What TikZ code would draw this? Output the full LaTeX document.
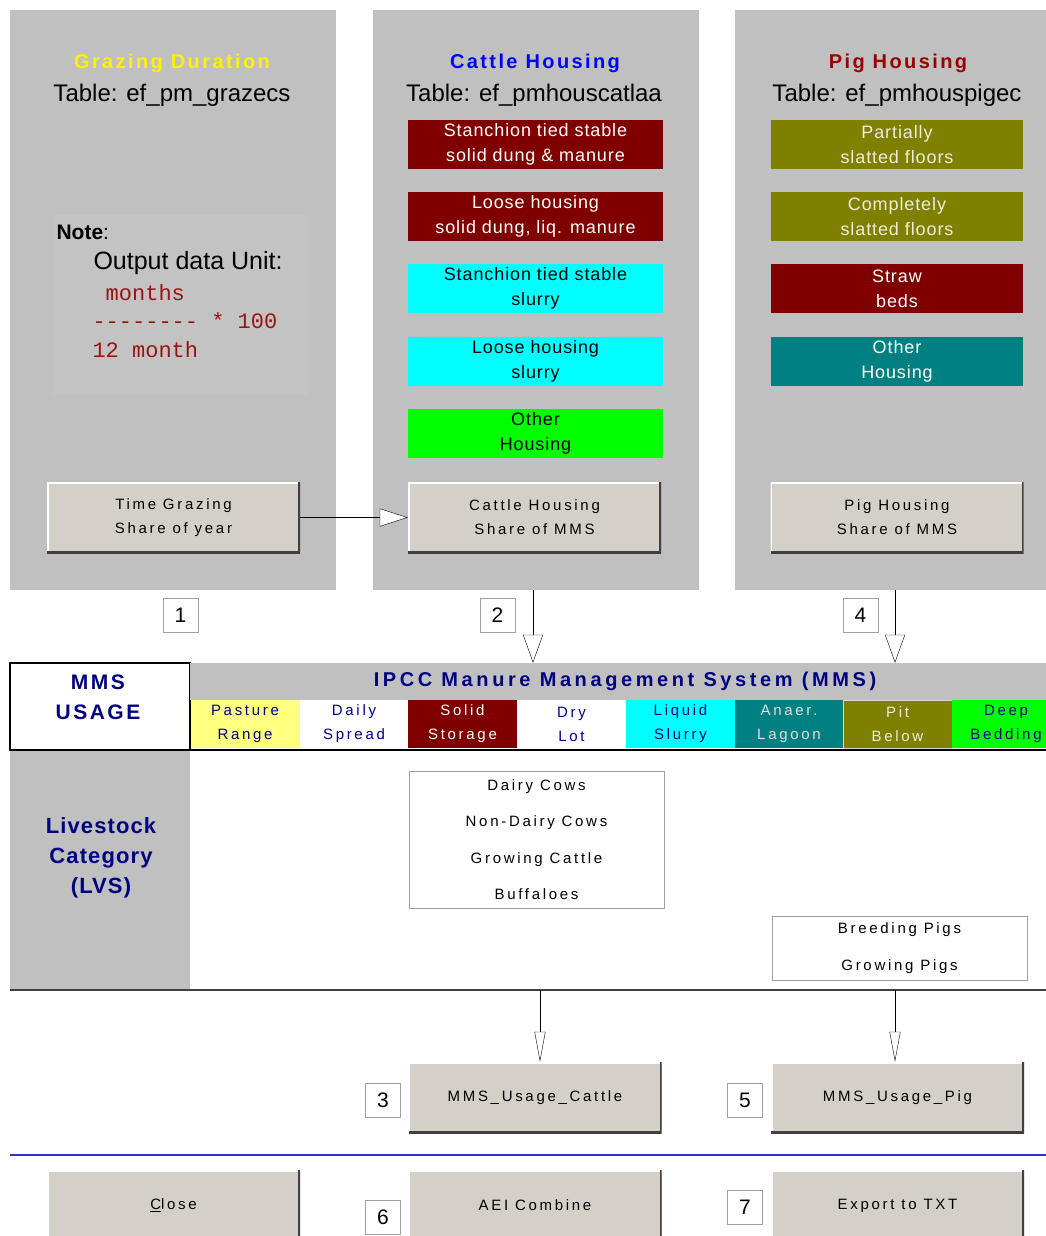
\documentclass[tikz,border=0pt]{standalone}
\usepackage{fontspec}
\setmainfont{Liberation Sans}
\setmonofont{Liberation Mono}
\newfontfamily\wsfont[LetterSpace=18]{Liberation Sans}
\newfontfamily\boxfont[LetterSpace=5]{Liberation Sans}
\newfontfamily\headfont[LetterSpace=12]{Liberation Sans}
\usetikzlibrary{
    arrows.meta,
    positioning
}
\definecolor{panelgray}{HTML}{C0C0C0}
\definecolor{notegray}{HTML}{C3C3C3}
\definecolor{btnface}{HTML}{D4D0C8}
\definecolor{darkred}{HTML}{800000}
\definecolor{olivebox}{HTML}{808000}
\definecolor{tealbox}{HTML}{008080}
\definecolor{limebox}{HTML}{00FF00}
\definecolor{cyanbox}{HTML}{00FFFF}
\definecolor{navyblue}{HTML}{000080}
\definecolor{pastyellow}{HTML}{FFFF80}
\definecolor{pigred}{HTML}{990000}
\definecolor{notered}{HTML}{9A1414}
\definecolor{numgray}{HTML}{A0A0A0}
\definecolor{lightcream}{HTML}{EEEED8}
\definecolor{sepblue}{HTML}{3030D0}
\tikzset{hbox/.style={minimum width=255, minimum height=49, inner sep=0pt, align=center, font=\boxfont\fontsize{18}{25}\selectfont}}
\tikzset{btn/.style={fill=btnface, minimum width=253, minimum height=71, inner sep=0pt, align=center,
    font=\wsfont\fontsize{15}{24}\selectfont,
    path picture={
        \draw[white, line width=3] (path picture bounding box.south west) -- (path picture bounding box.north west) -- (path picture bounding box.north east);
        \draw[black!75, line width=4] (path picture bounding box.south west) -- (path picture bounding box.south east) -- (path picture bounding box.north east);
    }}}
\tikzset{numbox/.style={draw=numgray, fill=white, minimum width=35, minimum height=34, inner sep=0pt, font=\fontsize{21}{24}\selectfont}}
\tikzset{mmscol/.style={minimum width=109, minimum height=48, inner sep=0pt, align=center, text=navyblue, font=\wsfont\fontsize{15}{24}\selectfont}}
\tikzset{lvsbox/.style={draw=numgray, fill=white, inner sep=0pt, align=center, font=\wsfont\fontsize{15}{36.5}\selectfont}}
\tikzset{ptitle/.style={font=\headfont\bfseries\fontsize{20}{24}\selectfont}}
\tikzset{ptable/.style={font=\fontsize{24}{28}\selectfont}}
\tikzset{openarr/.style={-{Triangle[fill=white, length=28pt, width=18pt]}}}
\tikzset{openarrs/.style={-{Triangle[fill=white, length=30pt, width=11pt]}}}

\begin{document}
\begin{tikzpicture}[x=1pt, y=-1pt]
    \useasboundingbox (0,0) rectangle (1045,1236);

    % three table panels
    \fill[panelgray] (10,10) rectangle (336,590);
    \fill[panelgray] (373,10) rectangle (699,590);
    \fill[panelgray] (735,10) rectangle (1060,590);

    % grazing panel
    \node[ptitle, text=yellow] (gztitle) at (172,63) {Grazing Duration};
    \node[ptable] (gztable) at (172,95) {Table: ef\_pm\_grazecs};
    \fill[notegray] (53,215) rectangle (308,395);
    \node[anchor=west, font=\fontsize{21}{24}\selectfont] (notehd) at (53,232) {\textbf{Note}:};
    \node[anchor=west, font=\fontsize{25}{28}\selectfont] (noteunit) at (90,263) {Output data Unit:};
    \node[anchor=west, align=left, text=notered, font=\ttfamily\fontsize{22}{28.5}\selectfont] (noteform) at (89,321) {~months\\-------- * 100\\12 month};
    \node[btn] (tgraz) at (173.5,517.5) {Time Grazing\\Share of year};

    % cattle panel
    \node[ptitle, text=blue] (cttitle) at (535,63) {Cattle Housing};
    \node[ptable] (cttable) at (534,95) {Table: ef\_pmhouscatlaa};
    \node[hbox, fill=darkred, text=white] (ct1) at (535.5,144.5) {Stanchion tied stable\\solid dung \& manure};
    \node[hbox, fill=darkred, text=white] (ct2) at (535.5,216.5) {Loose housing\\solid dung, liq. manure};
    \node[hbox, fill=cyanbox] (ct3) at (535.5,288.5) {Stanchion tied stable\\slurry};
    \node[hbox, fill=cyanbox] (ct4) at (535.5,361.5) {Loose housing\\slurry};
    \node[hbox, fill=limebox] (ct5) at (535.5,433.5) {Other\\Housing};
    \node[btn] (chous) at (534.5,517.5) {Cattle Housing\\Share of MMS};

    % pig panel
    \node[ptitle, text=pigred] (pgtitle) at (898,63) {Pig Housing};
    \node[ptable] (pgtable) at (897,95) {Table: ef\_pmhouspigec};
    \node[hbox, minimum width=252, fill=olivebox, text=lightcream] (pg1) at (897,144.5) {Partially\\slatted floors};
    \node[hbox, minimum width=252, fill=olivebox, text=lightcream] (pg2) at (897,216.5) {Completely\\slatted floors};
    \node[hbox, minimum width=252, fill=darkred, text=white] (pg3) at (897,288.5) {Straw\\beds};
    \node[hbox, minimum width=252, fill=tealbox, text=white] (pg4) at (897,361.5) {Other\\Housing};
    \node[btn] (phous) at (897,517.5) {Pig Housing\\Share of MMS};

    \draw[openarr] (tgraz.east) -- (chous.west);

    \node[numbox] (n1) at (180.5,615) {1};
    \node[numbox] (n2) at (497.5,615) {2};
    \node[numbox] (n4) at (860.5,615) {4};

    % MMS header
    \draw[line width=1.5, fill=white] (10,663) rectangle (190,750);
    \node[align=center, text=navyblue, font=\headfont\bfseries\fontsize{21}{30}\selectfont] (usage) at (98,697) {MMS\\USAGE};
    \node[fill=panelgray, minimum width=870, minimum height=37, inner sep=0pt, text=navyblue,
        font=\wsfont\bfseries\fontsize{20}{24}\selectfont] (hdr) at (625,681.5) {IPCC Manure Management System (MMS)};

    \node[mmscol, fill=pastyellow] (mpast) at (245,724) {Pasture\\Range};
    \node[mmscol, fill=white] (mdaily) at (354,724) {Daily\\Spread};
    \node[mmscol, fill=darkred, text=white] (msolid) at (462.5,724) {Solid\\Storage};
    \node[mmscol, fill=white] (mdry) at (571.5,724) {Dry\\Lot};
    \node[mmscol, fill=cyanbox] (mliq) at (680.5,724) {Liquid\\Slurry};
    \node[mmscol, fill=tealbox, text=white!88!black] (manaer) at (789,724) {Anaer.\\Lagoon};
    \node[mmscol, fill=olivebox, draw=white!85!black, text=lightcream] (mpit) at (897.5,724) {Pit\\Below};
    \node[mmscol, fill=limebox] (mdeep) at (1006,724) {Deep\\Bedding};

    \coordinate (cdrop) at (533,590);
    \coordinate (pdrop) at (895,590);
    \draw[-{Triangle[fill=white, length=28pt, width=20pt]}] (cdrop) -- (cdrop |- hdr.north);
    \draw[-{Triangle[fill=white, length=28pt, width=20pt]}] (pdrop) -- (pdrop |- hdr.north);

    \draw[line width=1.5] (10,750) -- (1060,750);

    % livestock categories
    \fill[panelgray] (10,751) rectangle (190,990);
    \node[align=center, text=navyblue, font=\boxfont\bfseries\fontsize{22}{30}\selectfont] (lvs) at (101,858) {Livestock\\Category\\(LVS)};
    \node[lvsbox, minimum width=255, minimum height=137] (lvcat) at (536.5,839.5) {Dairy Cows\\Non-Dairy Cows\\Growing Cattle\\Buffaloes};
    \node[lvsbox, minimum width=255, minimum height=64] (lvpig) at (899.5,948) {Breeding Pigs\\Growing Pigs};

    \draw[line width=1.5, black!75] (10,990) -- (1060,990);

    % usage tables
    \node[btn] (usecat) at (535,1097.5) {MMS\_Usage\_Cattle};
    \node[btn] (usepig) at (897.5,1097.5) {MMS\_Usage\_Pig};
    \coordinate (ctail) at (540,990);
    \coordinate (ptail) at (895,990);
    \draw[openarrs] (ctail) -- (ctail |- usecat.north);
    \draw[openarrs] (ptail) -- (ptail |- usepig.north);
    \node[numbox] (n3) at (383,1100.5) {3};
    \node[numbox] (n5) at (745,1100.5) {5};

    \draw[line width=1.5, sepblue] (10,1155) -- (1060,1155);

    % bottom buttons
    \node[btn] (closebtn) at (173.5,1205.5) {\underline{C}lose};
    \node[btn] (aeicomb) at (535,1205.5) {AEI Combine};
    \node[btn] (exporttxt) at (897.5,1205.5) {Export to TXT};
    \node[numbox] (n6) at (383,1217) {6};
    \node[numbox] (n7) at (745,1207.5) {7};
\end{tikzpicture}
\end{document}
